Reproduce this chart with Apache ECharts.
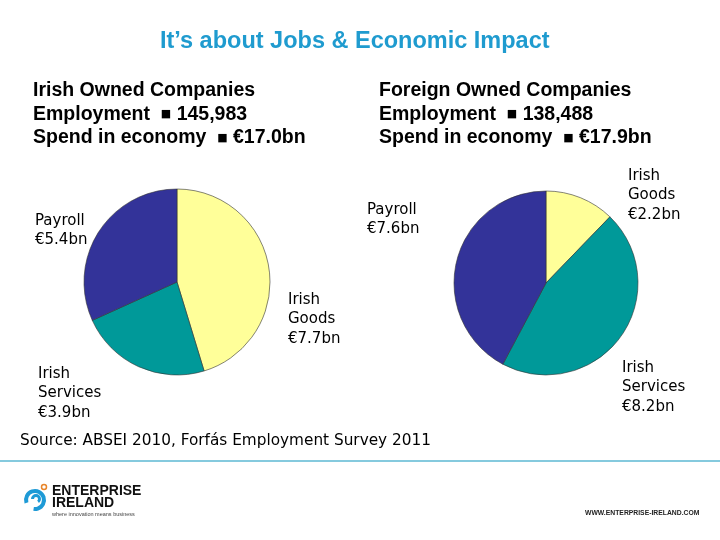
<!DOCTYPE html>
<html><head><meta charset="utf-8">
<script src="https://cdn.jsdelivr.net/npm/echarts@6/dist/echarts.min.js"></script>
<style>html,body{margin:0;padding:0;background:#fff}#c{width:720px;height:540px}</style>
</head><body><div id="c"></div>
<script>
const categories = ['Irish Goods', 'Irish Services', 'Payroll'];
const irishValues = [7.7, 3.9, 5.4];
const foreignValues = [2.2, 8.2, 7.6];
const sliceColors = ['#FFFF99', '#009999', '#333399'];
const titleText = 'It\u2019s about Jobs & Economic Impact';
const irishHeader = ['Irish Owned Companies', ['Employment', '145,983'], ['Spend in economy', '\u20AC17.0bn']];
const foreignHeader = ['Foreign Owned Companies', ['Employment', '138,488'], ['Spend in economy', '\u20AC17.9bn']];
const sourceText = 'Source: ABSEI 2010, Forf\u00E1s Employment Survey 2011';

const chart = echarts.init(document.getElementById('c'));
const lblFont = '15px "DejaVu Sans"';
function label(name, val, x, y) {
  const lines = (name === 'Payroll' ? [name] : name.split(' ')).concat(['\u20AC' + val.toFixed(1) + 'bn']);
  return { type: 'text', left: x, top: y, style: { text: lines.join('\n'), font: lblFont, fill: '#000', lineHeight: 19.5 } };
}
function header(h, x) {
  const txt = [h[0]].concat(h.slice(1).map(p => p[0] + '  {sq|\u25A0} ' + p[1])).join('\n');
  return { type: 'text', left: x, top: 79, style: { text: txt, font: 'bold 19.5px "Liberation Sans", Arial', fill: '#000', lineHeight: 23.5,
    rich: { sq: { font: 'bold 11px "DejaVu Sans"', fill: '#000', lineHeight: 23.5, verticalAlign: 'middle' } } } };
}
const pieSeries = (vals, center, r) => ({
  type: 'pie', center: center, radius: r, startAngle: 90, clockwise: true,
  label: { show: false }, labelLine: { show: false }, silent: true,
  itemStyle: { borderColor: '#333', borderWidth: 0.6 },
  data: categories.map((c, i) => ({ name: c, value: vals[i], itemStyle: { color: sliceColors[i] } }))
});
chart.setOption({
  animation: false,
  series: [pieSeries(irishValues, [177, 282], 93), pieSeries(foreignValues, [546, 283], 92)],
  graphic: [
    { type: 'text', left: 160, top: 30, style: { text: titleText, font: 'bold 23.5px "Liberation Sans", Arial', fill: '#1f9bcf' } },
    header(irishHeader, 33),
    header(foreignHeader, 379),
    label(categories[2], irishValues[2], 35, 211),
    label(categories[0], irishValues[0], 288, 290),
    label(categories[1], irishValues[1], 38, 364),
    label(categories[2], foreignValues[2], 367, 200),
    label(categories[0], foreignValues[0], 628, 166),
    label(categories[1], foreignValues[1], 622, 358),
    { type: 'text', left: 20, top: 434, style: { text: sourceText, font: '15.3px "DejaVu Sans"', fill: '#000' } },
    { type: 'line', shape: { x1: 0, y1: 461, x2: 720, y2: 461 }, style: { stroke: '#5db9d3', lineWidth: 1.5 } },
    // logo
    { type: 'arc', shape: { cx: 35, cy: 500, r: 9, startAngle: Math.PI * 0.9, endAngle: Math.PI * 2.55 }, style: { stroke: '#1e9ad6', lineWidth: 4, fill: null } },
    { type: 'arc', shape: { cx: 36, cy: 499, r: 3.5, startAngle: Math.PI * 1.0, endAngle: Math.PI * 2.3 }, style: { stroke: '#1e9ad6', lineWidth: 3, fill: null } },
    { type: 'circle', shape: { cx: 44, cy: 487, r: 2.5 }, style: { stroke: '#e8852a', lineWidth: 1.5, fill: '#fff' } },
    { type: 'text', left: 52, top: 484, style: { text: 'ENTERPRISE\nIRELAND', font: 'bold 14px "Liberation Sans", Arial', fill: '#111', lineHeight: 12.5 } },
    { type: 'text', left: 52, top: 511, style: { text: 'where innovation means business', font: '5.5px "Liberation Sans", Arial', fill: '#444' } },
    { type: 'text', left: 585, top: 510, style: { text: 'WWW.ENTERPRISE-IRELAND.COM', font: 'bold 6.8px "Liberation Sans", Arial', fill: '#222' } }
  ]
});
</script></body></html>
